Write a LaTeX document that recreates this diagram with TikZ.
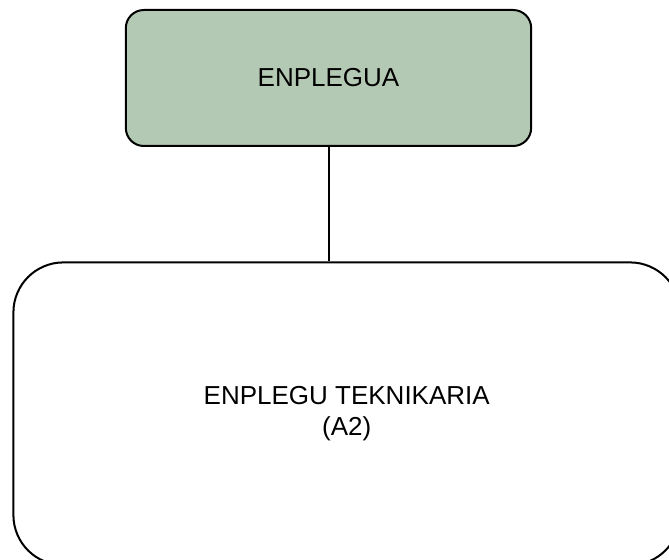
\documentclass[tikz,border=0pt]{standalone}
\usepackage{fontspec}
\setmainfont{Liberation Sans}
\usetikzlibrary{positioning}
\definecolor{boxgreen}{RGB}{180,201,180}

\begin{document}
\begin{tikzpicture}[x=0.75pt,y=-0.75pt,
  unit/.style={draw=black,line width=1.5pt,align=center,inner sep=0pt,
    font=\fontsize{19.5}{23.25}\selectfont}]

\useasboundingbox (0,0) rectangle (669,560);
\clip (0,0) rectangle (669,560);

\node[unit,fill=boxgreen,rounded corners=13.5pt,minimum width=304pt,minimum height=102pt] (head) at (328.5,78) {ENPLEGUA};
\node[unit,rounded corners=37.5pt,minimum width=500pt,minimum height=227pt] (tech) at (346.75,413.75) {ENPLEGU TEKNIKARIA\\(A2)};

\draw[line width=1.5pt] (head.south) -- (head.south |- tech.north);

\end{tikzpicture}
\end{document}
